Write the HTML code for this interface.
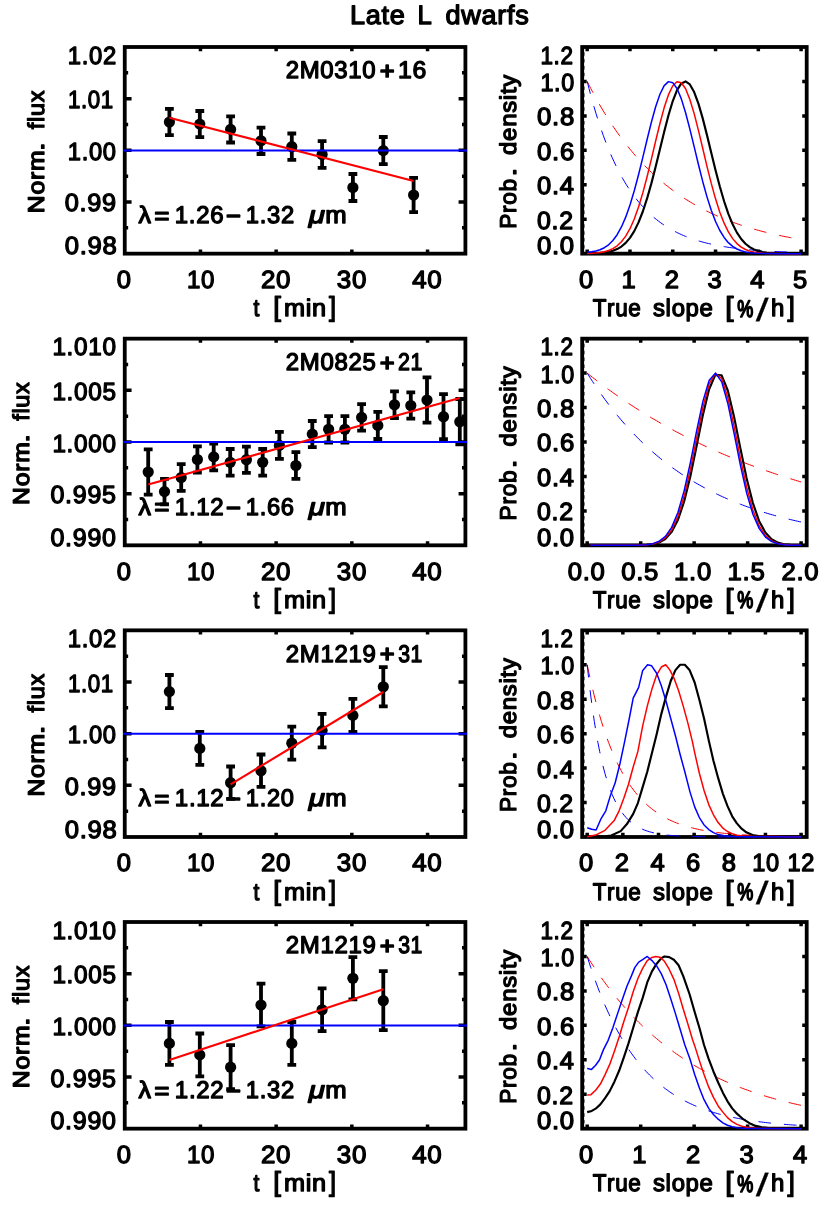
<!DOCTYPE html>
<html lang="en"><head><meta charset="utf-8"><title>Late L dwarfs</title>
<style>
html,body{margin:0;padding:0;background:#fff}
svg{display:block;will-change:transform}
.t text{font-family:"Liberation Sans",sans-serif;font-weight:400;font-size:24px;fill:#000;stroke:#000;stroke-width:1.3px;stroke-linejoin:round;letter-spacing:0.7px;font-kerning:none;white-space:pre;text-rendering:geometricPrecision}
</style></head><body>
<svg width="830" height="1214" viewBox="0 0 830 1214">
<rect width="830" height="1214" fill="#fff"/>
<g class="t">
<text y="24.05"><tspan x="350.04" textLength="55.41" lengthAdjust="spacingAndGlyphs" style="font-size:26.6px">Late</tspan> <tspan x="417.62" textLength="14.98" lengthAdjust="spacingAndGlyphs" style="font-size:26.6px">L</tspan> <tspan x="445.53" textLength="83.9" lengthAdjust="spacingAndGlyphs" style="font-size:26.6px">dwarfs</tspan></text>
</g>
<g class="pl">
<rect x="124.75" y="47" width="340.65" height="206.65" fill="none" stroke="#000" stroke-width="3.8"/>
<path d="M200.45 253.65v-4.13M200.45 47v4.13M276.15 253.65v-4.13M276.15 47v4.13M351.85 253.65v-4.13M351.85 47v4.13M427.55 253.65v-4.13M427.55 47v4.13M124.75 98.66h6.81M465.4 98.66h-6.81M124.75 150.32h6.81M465.4 150.32h-6.81M124.75 201.99h6.81M465.4 201.99h-6.81M124.75 72.83h3.41M465.4 72.83h-3.41M124.75 124.49h3.41M465.4 124.49h-3.41M124.75 176.16h3.41M465.4 176.16h-3.41M124.75 227.82h3.41M465.4 227.82h-3.41" fill="none" stroke="#000" stroke-width="3.5"/>
<path d="M169.4 108.9V135.1M165 108.9h8.8M165 135.1h8.8M199.8 111V137.2M195.4 111h8.8M195.4 137.2h8.8M230.6 116.3V142.5M226.2 116.3h8.8M226.2 142.5h8.8M261 127.6V154M256.6 127.6h8.8M256.6 154h8.8M291.8 133.5V159.9M287.4 133.5h8.8M287.4 159.9h8.8M322.1 141.2V167.8M317.7 141.2h8.8M317.7 167.8h8.8M352.9 174V201M348.5 174h8.8M348.5 201h8.8M383.3 137V164.2M378.9 137h8.8M378.9 164.2h8.8M413.6 177.8V212.2M409.2 177.8h8.8M409.2 212.2h8.8" fill="none" stroke="#000" stroke-width="3.8"/>
<circle cx="169.4" cy="122" r="5.6"/><circle cx="199.8" cy="124.1" r="5.6"/><circle cx="230.6" cy="129.4" r="5.6"/><circle cx="261" cy="140.8" r="5.6"/><circle cx="291.8" cy="146.7" r="5.6"/><circle cx="322.1" cy="154.5" r="5.6"/><circle cx="352.9" cy="187.5" r="5.6"/><circle cx="383.3" cy="150.6" r="5.6"/><circle cx="413.6" cy="195" r="5.6"/>
<path d="M123.05 150.42H467.1" stroke="#0000ff" stroke-width="2" fill="none"/>
<path d="M169.4 117.7L413.6 181" stroke="#ff0000" stroke-width="2.1" fill="none"/>
</g>
<g class="t">
<text transform="translate(67.81 63.75) scale(0.9602 1)" style="font-size:24.8px">1.02</text>
<text transform="translate(67.89 108.16) scale(0.8977 1)" style="font-size:24.8px">1.01</text>
<text transform="translate(67.82 159.82) scale(0.9547 1)" style="font-size:24.8px">1.00</text>
<text transform="translate(64.67 211.49) scale(1.0217 1)" style="font-size:24.8px">0.99</text>
<text transform="translate(64.67 254.3) scale(1.0338 1)" style="font-size:24.8px">0.98</text>
<text transform="translate(116.85 288.05) scale(1.0300 1)" style="font-size:24.8px">0</text>
<text transform="translate(187.04 288.05) scale(0.9700 1)" style="font-size:24.8px">10</text>
<text transform="translate(260.93 288.05) scale(1.0450 1)" style="font-size:24.8px">20</text>
<text transform="translate(336.78 288.05) scale(1.0450 1)" style="font-size:24.8px">30</text>
<text transform="translate(412.18 288.05) scale(1.0450 1)" style="font-size:24.8px">40</text>
<text y="316.35"><tspan x="253.45" textLength="6.45" lengthAdjust="spacingAndGlyphs">t</tspan> <tspan x="273.28" textLength="8.38" lengthAdjust="spacingAndGlyphs" style="font-size:27.5px">[</tspan><tspan x="283.9" textLength="42.99" lengthAdjust="spacingAndGlyphs">min</tspan><tspan x="328.9" textLength="7.64" lengthAdjust="spacingAndGlyphs" style="font-size:27.5px">]</tspan></text>
<text transform="translate(43.75 0) rotate(-90)" y="0"><tspan x="-213.23" textLength="63.51" lengthAdjust="spacingAndGlyphs" style="font-size:22.9px">Norm</tspan><tspan x="-150.99" textLength="9.53" lengthAdjust="spacingAndGlyphs" style="font-size:22.9px">.</tspan> <tspan x="-129.17" textLength="39.37" lengthAdjust="spacingAndGlyphs" style="font-size:22.9px">flux</tspan></text>
<text y="78.25"><tspan x="285.74" textLength="90.64" lengthAdjust="spacingAndGlyphs">2M0310</tspan><tspan x="380.07" y="79.05" textLength="15.08" lengthAdjust="spacingAndGlyphs" style="stroke-width:1.9px">+</tspan><tspan x="398.08" y="78.25" textLength="29.06" lengthAdjust="spacingAndGlyphs">16</tspan></text>
<text y="223.1"><tspan x="138.5" textLength="13.17" lengthAdjust="spacingAndGlyphs">λ</tspan><tspan x="154.56" y="223.7" textLength="15.53" lengthAdjust="spacingAndGlyphs" style="stroke-width:1.7px">=</tspan><tspan x="174.82" y="223.1" textLength="49.48" lengthAdjust="spacingAndGlyphs">1.26</tspan><tspan x="226.36" y="223.9" textLength="15.08" lengthAdjust="spacingAndGlyphs" style="stroke-width:1.9px">−</tspan><tspan x="245.83" y="223.1" textLength="49.01" lengthAdjust="spacingAndGlyphs">1.32</tspan> <tspan x="308.72" textLength="17.02" lengthAdjust="spacingAndGlyphs" style="font-style:italic">μ</tspan><tspan x="325.29" textLength="22.16" lengthAdjust="spacingAndGlyphs">m</tspan></text>
</g>
<g class="pl">
<rect x="124.75" y="338.67" width="340.65" height="206.65" fill="none" stroke="#000" stroke-width="3.8"/>
<path d="M200.45 545.32v-4.13M200.45 338.67v4.13M276.15 545.32v-4.13M276.15 338.67v4.13M351.85 545.32v-4.13M351.85 338.67v4.13M427.55 545.32v-4.13M427.55 338.67v4.13M124.75 390.33h6.81M465.4 390.33h-6.81M124.75 442h6.81M465.4 442h-6.81M124.75 493.66h6.81M465.4 493.66h-6.81M124.75 364.5h3.41M465.4 364.5h-3.41M124.75 416.16h3.41M465.4 416.16h-3.41M124.75 467.83h3.41M465.4 467.83h-3.41M124.75 519.49h3.41M465.4 519.49h-3.41" fill="none" stroke="#000" stroke-width="3.5"/>
<path d="M148.2 449.4V494.6M143.8 449.4h8.8M143.8 494.6h8.8M164.5 478.9V504.3M160.1 478.9h8.8M160.1 504.3h8.8M181.2 464.2V490.8M176.8 464.2h8.8M176.8 490.8h8.8M197.4 446.3V472.7M193 446.3h8.8M193 472.7h8.8M213.7 443.5V470.3M209.3 443.5h8.8M209.3 470.3h8.8M230.2 449V475.6M225.8 449h8.8M225.8 475.6h8.8M246.4 446.6V472.8M242 446.6h8.8M242 472.8h8.8M262.7 449V475.6M258.3 449h8.8M258.3 475.6h8.8M279.4 431.9V458.9M275 431.9h8.8M275 458.9h8.8M295.9 452.2V478.8M291.5 452.2h8.8M291.5 478.8h8.8M312.3 421V447.2M307.9 421h8.8M307.9 447.2h8.8M328.6 416.1V442.5M324.2 416.1h8.8M324.2 442.5h8.8M344.9 416.1V442.5M340.5 416.1h8.8M340.5 442.5h8.8M361.6 404.2V430.6M357.2 404.2h8.8M357.2 430.6h8.8M377.8 411.8V439M373.4 411.8h8.8M373.4 439h8.8M394.5 391.4V418.2M390.1 391.4h8.8M390.1 418.2h8.8M410.8 392.3V418.7M406.4 392.3h8.8M406.4 418.7h8.8M427 377.3V422.7M422.6 377.3h8.8M422.6 422.7h8.8M443.5 394.2V439.2M439.1 394.2h8.8M439.1 439.2h8.8M459.8 399V444.4M455.4 399h8.8M455.4 444.4h8.8" fill="none" stroke="#000" stroke-width="3.8"/>
<circle cx="148.2" cy="472" r="5.6"/><circle cx="164.5" cy="491.6" r="5.6"/><circle cx="181.2" cy="477.5" r="5.6"/><circle cx="197.4" cy="459.5" r="5.6"/><circle cx="213.7" cy="456.9" r="5.6"/><circle cx="230.2" cy="462.3" r="5.6"/><circle cx="246.4" cy="459.7" r="5.6"/><circle cx="262.7" cy="462.3" r="5.6"/><circle cx="279.4" cy="445.4" r="5.6"/><circle cx="295.9" cy="465.5" r="5.6"/><circle cx="312.3" cy="434.1" r="5.6"/><circle cx="328.6" cy="429.3" r="5.6"/><circle cx="344.9" cy="429.3" r="5.6"/><circle cx="361.6" cy="417.4" r="5.6"/><circle cx="377.8" cy="425.4" r="5.6"/><circle cx="394.5" cy="404.8" r="5.6"/><circle cx="410.8" cy="405.5" r="5.6"/><circle cx="427" cy="400" r="5.6"/><circle cx="443.5" cy="416.7" r="5.6"/><circle cx="459.8" cy="421.7" r="5.6"/>
<path d="M123.05 442.1H467.1" stroke="#0000ff" stroke-width="2" fill="none"/>
<path d="M148.2 484.6L459.8 397.9" stroke="#ff0000" stroke-width="2.1" fill="none"/>
</g>
<g class="t">
<text transform="translate(52.39 355.42) scale(0.9794 1)" style="font-size:24.8px">1.010</text>
<text transform="translate(52.39 399.83) scale(0.9805 1)" style="font-size:24.8px">1.005</text>
<text transform="translate(52.39 451.5) scale(0.9794 1)" style="font-size:24.8px">1.000</text>
<text transform="translate(50.48 503.16) scale(1.0101 1)" style="font-size:24.8px">0.995</text>
<text transform="translate(50.48 545.97) scale(1.0090 1)" style="font-size:24.8px">0.990</text>
<text transform="translate(116.85 579.72) scale(1.0300 1)" style="font-size:24.8px">0</text>
<text transform="translate(187.04 579.72) scale(0.9700 1)" style="font-size:24.8px">10</text>
<text transform="translate(260.93 579.72) scale(1.0450 1)" style="font-size:24.8px">20</text>
<text transform="translate(336.78 579.72) scale(1.0450 1)" style="font-size:24.8px">30</text>
<text transform="translate(412.18 579.72) scale(1.0450 1)" style="font-size:24.8px">40</text>
<text y="608.02"><tspan x="253.45" textLength="6.45" lengthAdjust="spacingAndGlyphs">t</tspan> <tspan x="273.28" textLength="8.38" lengthAdjust="spacingAndGlyphs" style="font-size:27.5px">[</tspan><tspan x="283.9" textLength="42.99" lengthAdjust="spacingAndGlyphs">min</tspan><tspan x="328.9" textLength="7.64" lengthAdjust="spacingAndGlyphs" style="font-size:27.5px">]</tspan></text>
<text transform="translate(28.95 0) rotate(-90)" y="0"><tspan x="-504.9" textLength="63.51" lengthAdjust="spacingAndGlyphs" style="font-size:22.9px">Norm</tspan><tspan x="-442.66" textLength="9.53" lengthAdjust="spacingAndGlyphs" style="font-size:22.9px">.</tspan> <tspan x="-420.84" textLength="39.37" lengthAdjust="spacingAndGlyphs" style="font-size:22.9px">flux</tspan></text>
<text y="369.92"><tspan x="285.74" textLength="90.71" lengthAdjust="spacingAndGlyphs">2M0825</tspan><tspan x="380.07" y="370.72" textLength="15.08" lengthAdjust="spacingAndGlyphs" style="stroke-width:1.9px">+</tspan><tspan x="397.9" y="369.92" textLength="25.09" lengthAdjust="spacingAndGlyphs">21</tspan></text>
<text y="514.77"><tspan x="138.5" textLength="13.17" lengthAdjust="spacingAndGlyphs">λ</tspan><tspan x="154.56" y="515.37" textLength="15.53" lengthAdjust="spacingAndGlyphs" style="stroke-width:1.7px">=</tspan><tspan x="174.82" y="514.77" textLength="49.64" lengthAdjust="spacingAndGlyphs">1.12</tspan><tspan x="226.36" y="515.57" textLength="15.08" lengthAdjust="spacingAndGlyphs" style="stroke-width:1.9px">−</tspan><tspan x="245.84" y="514.77" textLength="48.85" lengthAdjust="spacingAndGlyphs">1.66</tspan> <tspan x="308.72" textLength="17.02" lengthAdjust="spacingAndGlyphs" style="font-style:italic">μ</tspan><tspan x="325.29" textLength="22.16" lengthAdjust="spacingAndGlyphs">m</tspan></text>
</g>
<g class="pl">
<rect x="124.75" y="630.34" width="340.65" height="206.65" fill="none" stroke="#000" stroke-width="3.8"/>
<path d="M200.45 836.99v-4.13M200.45 630.34v4.13M276.15 836.99v-4.13M276.15 630.34v4.13M351.85 836.99v-4.13M351.85 630.34v4.13M427.55 836.99v-4.13M427.55 630.34v4.13M124.75 682h6.81M465.4 682h-6.81M124.75 733.66h6.81M465.4 733.66h-6.81M124.75 785.33h6.81M465.4 785.33h-6.81M124.75 656.17h3.41M465.4 656.17h-3.41M124.75 707.83h3.41M465.4 707.83h-3.41M124.75 759.5h3.41M465.4 759.5h-3.41M124.75 811.16h3.41M465.4 811.16h-3.41" fill="none" stroke="#000" stroke-width="3.5"/>
<path d="M169.4 675V708.2M165 675h8.8M165 708.2h8.8M199.8 731.9V764.9M195.4 731.9h8.8M195.4 764.9h8.8M230.6 766.5V798.9M226.2 766.5h8.8M226.2 798.9h8.8M261 754.5V786.9M256.6 754.5h8.8M256.6 786.9h8.8M291.8 726.7V759.7M287.4 726.7h8.8M287.4 759.7h8.8M322.1 713.8V747.4M317.7 713.8h8.8M317.7 747.4h8.8M352.9 698.9V731.9M348.5 698.9h8.8M348.5 731.9h8.8M383.3 667.2V706.4M378.9 667.2h8.8M378.9 706.4h8.8" fill="none" stroke="#000" stroke-width="3.8"/>
<circle cx="169.4" cy="691.6" r="5.6"/><circle cx="199.8" cy="748.4" r="5.6"/><circle cx="230.6" cy="782.7" r="5.6"/><circle cx="261" cy="770.7" r="5.6"/><circle cx="291.8" cy="743.2" r="5.6"/><circle cx="322.1" cy="730.6" r="5.6"/><circle cx="352.9" cy="715.4" r="5.6"/><circle cx="383.3" cy="686.8" r="5.6"/>
<path d="M123.05 733.76H467.1" stroke="#0000ff" stroke-width="2" fill="none"/>
<path d="M230.6 784.4L383.3 692" stroke="#ff0000" stroke-width="2.1" fill="none"/>
</g>
<g class="t">
<text transform="translate(67.81 647.09) scale(0.9602 1)" style="font-size:24.8px">1.02</text>
<text transform="translate(67.89 691.5) scale(0.8977 1)" style="font-size:24.8px">1.01</text>
<text transform="translate(67.82 743.16) scale(0.9547 1)" style="font-size:24.8px">1.00</text>
<text transform="translate(64.67 794.83) scale(1.0217 1)" style="font-size:24.8px">0.99</text>
<text transform="translate(64.67 837.64) scale(1.0338 1)" style="font-size:24.8px">0.98</text>
<text transform="translate(116.85 871.39) scale(1.0300 1)" style="font-size:24.8px">0</text>
<text transform="translate(187.04 871.39) scale(0.9700 1)" style="font-size:24.8px">10</text>
<text transform="translate(260.93 871.39) scale(1.0450 1)" style="font-size:24.8px">20</text>
<text transform="translate(336.78 871.39) scale(1.0450 1)" style="font-size:24.8px">30</text>
<text transform="translate(412.18 871.39) scale(1.0450 1)" style="font-size:24.8px">40</text>
<text y="899.69"><tspan x="253.45" textLength="6.45" lengthAdjust="spacingAndGlyphs">t</tspan> <tspan x="273.28" textLength="8.38" lengthAdjust="spacingAndGlyphs" style="font-size:27.5px">[</tspan><tspan x="283.9" textLength="42.99" lengthAdjust="spacingAndGlyphs">min</tspan><tspan x="328.9" textLength="7.64" lengthAdjust="spacingAndGlyphs" style="font-size:27.5px">]</tspan></text>
<text transform="translate(43.75 0) rotate(-90)" y="0"><tspan x="-796.57" textLength="63.51" lengthAdjust="spacingAndGlyphs" style="font-size:22.9px">Norm</tspan><tspan x="-734.33" textLength="9.53" lengthAdjust="spacingAndGlyphs" style="font-size:22.9px">.</tspan> <tspan x="-712.51" textLength="39.37" lengthAdjust="spacingAndGlyphs" style="font-size:22.9px">flux</tspan></text>
<text y="661.59"><tspan x="285.74" textLength="90.84" lengthAdjust="spacingAndGlyphs">2M1219</tspan><tspan x="380.07" y="662.39" textLength="15.08" lengthAdjust="spacingAndGlyphs" style="stroke-width:1.9px">+</tspan><tspan x="398.17" y="661.59" textLength="24.81" lengthAdjust="spacingAndGlyphs">31</tspan></text>
<text y="806.44"><tspan x="138.5" textLength="13.17" lengthAdjust="spacingAndGlyphs">λ</tspan><tspan x="154.56" y="807.04" textLength="15.53" lengthAdjust="spacingAndGlyphs" style="stroke-width:1.7px">=</tspan><tspan x="174.82" y="806.44" textLength="49.64" lengthAdjust="spacingAndGlyphs">1.12</tspan><tspan x="226.36" y="807.24" textLength="15.08" lengthAdjust="spacingAndGlyphs" style="stroke-width:1.9px">−</tspan><tspan x="245.84" y="806.44" textLength="48.73" lengthAdjust="spacingAndGlyphs">1.20</tspan> <tspan x="308.72" textLength="17.02" lengthAdjust="spacingAndGlyphs" style="font-style:italic">μ</tspan><tspan x="325.29" textLength="22.16" lengthAdjust="spacingAndGlyphs">m</tspan></text>
</g>
<g class="pl">
<rect x="124.75" y="922.01" width="340.65" height="206.65" fill="none" stroke="#000" stroke-width="3.8"/>
<path d="M200.45 1128.66v-4.13M200.45 922.01v4.13M276.15 1128.66v-4.13M276.15 922.01v4.13M351.85 1128.66v-4.13M351.85 922.01v4.13M427.55 1128.66v-4.13M427.55 922.01v4.13M124.75 973.67h6.81M465.4 973.67h-6.81M124.75 1025.34h6.81M465.4 1025.34h-6.81M124.75 1077h6.81M465.4 1077h-6.81M124.75 947.84h3.41M465.4 947.84h-3.41M124.75 999.5h3.41M465.4 999.5h-3.41M124.75 1051.17h3.41M465.4 1051.17h-3.41M124.75 1102.83h3.41M465.4 1102.83h-3.41" fill="none" stroke="#000" stroke-width="3.5"/>
<path d="M169.4 1022V1064.8M165 1022h8.8M165 1064.8h8.8M199.8 1033.5V1076.3M195.4 1033.5h8.8M195.4 1076.3h8.8M230.6 1045.2V1089.2M226.2 1045.2h8.8M226.2 1089.2h8.8M261 983.6V1026.4M256.6 983.6h8.8M256.6 1026.4h8.8M291.8 1022V1064.8M287.4 1022h8.8M287.4 1064.8h8.8M322.1 988.4V1031.2M317.7 988.4h8.8M317.7 1031.2h8.8M352.9 957.2V999.4M348.5 957.2h8.8M348.5 999.4h8.8M383.3 971.2V1030.2M378.9 971.2h8.8M378.9 1030.2h8.8" fill="none" stroke="#000" stroke-width="3.8"/>
<circle cx="169.4" cy="1043.4" r="5.6"/><circle cx="199.8" cy="1054.9" r="5.6"/><circle cx="230.6" cy="1067.2" r="5.6"/><circle cx="261" cy="1005" r="5.6"/><circle cx="291.8" cy="1043.4" r="5.6"/><circle cx="322.1" cy="1009.8" r="5.6"/><circle cx="352.9" cy="978.3" r="5.6"/><circle cx="383.3" cy="1000.7" r="5.6"/>
<path d="M123.05 1025.43H467.1" stroke="#0000ff" stroke-width="2" fill="none"/>
<path d="M169.4 1060.1L383.3 989.2" stroke="#ff0000" stroke-width="2.1" fill="none"/>
</g>
<g class="t">
<text transform="translate(52.39 938.76) scale(0.9794 1)" style="font-size:24.8px">1.010</text>
<text transform="translate(52.39 983.17) scale(0.9805 1)" style="font-size:24.8px">1.005</text>
<text transform="translate(52.39 1034.84) scale(0.9794 1)" style="font-size:24.8px">1.000</text>
<text transform="translate(50.48 1086.5) scale(1.0101 1)" style="font-size:24.8px">0.995</text>
<text transform="translate(50.48 1129.31) scale(1.0090 1)" style="font-size:24.8px">0.990</text>
<text transform="translate(116.85 1163.06) scale(1.0300 1)" style="font-size:24.8px">0</text>
<text transform="translate(187.04 1163.06) scale(0.9700 1)" style="font-size:24.8px">10</text>
<text transform="translate(260.93 1163.06) scale(1.0450 1)" style="font-size:24.8px">20</text>
<text transform="translate(336.78 1163.06) scale(1.0450 1)" style="font-size:24.8px">30</text>
<text transform="translate(412.18 1163.06) scale(1.0450 1)" style="font-size:24.8px">40</text>
<text y="1191.36"><tspan x="253.45" textLength="6.45" lengthAdjust="spacingAndGlyphs">t</tspan> <tspan x="273.28" textLength="8.38" lengthAdjust="spacingAndGlyphs" style="font-size:27.5px">[</tspan><tspan x="283.9" textLength="42.99" lengthAdjust="spacingAndGlyphs">min</tspan><tspan x="328.9" textLength="7.64" lengthAdjust="spacingAndGlyphs" style="font-size:27.5px">]</tspan></text>
<text transform="translate(28.95 0) rotate(-90)" y="0"><tspan x="-1088.24" textLength="63.51" lengthAdjust="spacingAndGlyphs" style="font-size:22.9px">Norm</tspan><tspan x="-1026" textLength="9.53" lengthAdjust="spacingAndGlyphs" style="font-size:22.9px">.</tspan> <tspan x="-1004.18" textLength="39.37" lengthAdjust="spacingAndGlyphs" style="font-size:22.9px">flux</tspan></text>
<text y="953.26"><tspan x="285.74" textLength="90.84" lengthAdjust="spacingAndGlyphs">2M1219</tspan><tspan x="380.07" y="954.06" textLength="15.08" lengthAdjust="spacingAndGlyphs" style="stroke-width:1.9px">+</tspan><tspan x="398.17" y="953.26" textLength="24.81" lengthAdjust="spacingAndGlyphs">31</tspan></text>
<text y="1098.11"><tspan x="138.5" textLength="13.17" lengthAdjust="spacingAndGlyphs">λ</tspan><tspan x="154.56" y="1098.71" textLength="15.53" lengthAdjust="spacingAndGlyphs" style="stroke-width:1.7px">=</tspan><tspan x="174.82" y="1098.11" textLength="49.64" lengthAdjust="spacingAndGlyphs">1.22</tspan><tspan x="226.36" y="1098.91" textLength="15.08" lengthAdjust="spacingAndGlyphs" style="stroke-width:1.9px">−</tspan><tspan x="245.83" y="1098.11" textLength="49.01" lengthAdjust="spacingAndGlyphs">1.32</tspan> <tspan x="308.72" textLength="17.02" lengthAdjust="spacingAndGlyphs" style="font-style:italic">μ</tspan><tspan x="325.29" textLength="22.16" lengthAdjust="spacingAndGlyphs">m</tspan></text>
</g>
<g class="pl">
<rect x="582.2" y="47" width="224.5" height="206.65" fill="none" stroke="#000" stroke-width="3.8"/>
<path d="M587.2 253.65v-4.13M587.2 47v4.13M629.98 253.65v-4.13M629.98 47v4.13M672.76 253.65v-4.13M672.76 47v4.13M715.54 253.65v-4.13M715.54 47v4.13M758.32 253.65v-4.13M758.32 47v4.13M801.1 253.65v-4.13M801.1 47v4.13M582.2 219.21h4.49M806.7 219.21h-4.49M582.2 184.77h4.49M806.7 184.77h-4.49M582.2 150.32h4.49M806.7 150.32h-4.49M582.2 115.88h4.49M806.7 115.88h-4.49M582.2 81.44h4.49M806.7 81.44h-4.49M582.2 246.76h2.25M582.2 239.87h2.25M582.2 232.98h2.25M582.2 226.1h2.25M582.2 212.32h2.25M582.2 205.43h2.25M582.2 198.54h2.25M582.2 191.65h2.25M582.2 177.88h2.25M582.2 170.99h2.25M582.2 164.1h2.25M582.2 157.21h2.25M582.2 143.44h2.25M582.2 136.55h2.25M582.2 129.66h2.25M582.2 122.77h2.25M582.2 108.99h2.25M582.2 102.11h2.25M582.2 95.22h2.25M582.2 88.33h2.25M582.2 74.55h2.25M582.2 67.66h2.25M582.2 60.77h2.25M582.2 53.89h2.25" fill="none" stroke="#000" stroke-width="3.5"/>
<path d="M587.2 81.44L588.98 84.99L590.77 88.47L592.55 91.87L594.33 95.21L596.11 98.48L597.9 101.68L599.68 104.81L601.46 107.88L603.24 110.88L605.03 113.83L606.81 116.71L608.59 119.53L610.37 122.3L612.16 125.01L613.94 127.66L615.72 130.26L617.5 132.8L619.29 135.29L621.07 137.73L622.85 140.12L624.63 142.46L626.42 144.76L628.2 147L629.98 149.2L631.76 151.35L633.55 153.46L635.33 155.53L637.11 157.55L638.89 159.53L640.68 161.47L642.46 163.37L644.24 165.23L646.02 167.06L647.81 168.84L649.59 170.59L651.37 172.3L653.15 173.98L654.94 175.62L656.72 177.23L658.5 178.81L660.28 180.35L662.07 181.86L663.85 183.34L665.63 184.79L667.41 186.21L669.2 187.6L670.98 188.96L672.76 190.3L674.54 191.6L676.33 192.88L678.11 194.14L679.89 195.36L681.67 196.56L683.46 197.74L685.24 198.89L687.02 200.02L688.8 201.13L690.59 202.21L692.37 203.27L694.15 204.31L695.93 205.33L697.72 206.32L699.5 207.3L701.28 208.26L703.06 209.19L704.85 210.11L706.63 211.01L708.41 211.89L710.19 212.75L711.98 213.59L713.76 214.42L715.54 215.22L717.32 216.02L719.11 216.79L720.89 217.55L722.67 218.3L724.45 219.03L726.24 219.74L728.02 220.44L729.8 221.12L731.58 221.79L733.37 222.45L735.15 223.09L736.93 223.72L738.71 224.34L740.5 224.95L742.28 225.54L744.06 226.12L745.84 226.68L747.62 227.24L749.41 227.79L751.19 228.32L752.97 228.84L754.75 229.35L756.54 229.85L758.32 230.34L760.1 230.82L761.88 231.3L763.67 231.76L765.45 232.21L767.23 232.65L769.01 233.08L770.8 233.51L772.58 233.92L774.36 234.33L776.14 234.73L777.93 235.12L779.71 235.5L781.49 235.87L783.27 236.24L785.06 236.6L786.84 236.95L788.62 237.29L790.4 237.63L792.19 237.96L793.97 238.29L795.75 238.6L797.54 238.91L799.32 239.22L801.1 239.51" stroke="#ff0000" stroke-width="1.0" stroke-dasharray="12.7 12.9" fill="none"/>
<path d="M587.2 81.44L588.98 88.47L590.77 95.21L592.55 101.68L594.33 107.88L596.11 113.83L597.9 119.53L599.68 125.01L601.46 130.26L603.24 135.29L605.03 140.12L606.81 144.76L608.59 149.2L610.37 153.46L612.16 157.55L613.94 161.47L615.72 165.23L617.5 168.84L619.29 172.3L621.07 175.62L622.85 178.81L624.63 181.86L626.42 184.79L628.2 187.6L629.98 190.3L631.76 192.88L633.55 195.36L635.33 197.74L637.11 200.02L638.89 202.21L640.68 204.31L642.46 206.32L644.24 208.26L646.02 210.11L647.81 211.89L649.59 213.59L651.37 215.22L653.15 216.79L654.94 218.3L656.72 219.74L658.5 221.12L660.28 222.45L662.07 223.72L663.85 224.95L665.63 226.12L667.41 227.24L669.2 228.32L670.98 229.35L672.76 230.34L674.54 231.3L676.33 232.21L678.11 233.08L679.89 233.92L681.67 234.73L683.46 235.5L685.24 236.24L687.02 236.95L688.8 237.63L690.59 238.29L692.37 238.91L694.15 239.51L695.93 240.09L697.72 240.64L699.5 241.18L701.28 241.68L703.06 242.17L704.85 242.64L706.63 243.09L708.41 243.52L710.19 243.93L711.98 244.33L713.76 244.71L715.54 245.08L717.32 245.43L719.11 245.76L720.89 246.08L722.67 246.39L724.45 246.69L726.24 246.97L728.02 247.25L729.8 247.51L731.58 247.76L733.37 248L735.15 248.23L736.93 248.45L738.71 248.66L740.5 248.87L742.28 249.06L744.06 249.25L745.84 249.43L747.62 249.6L749.41 249.77L751.19 249.92L752.97 250.08L754.75 250.22L756.54 250.36L758.32 250.5L760.1 250.62L761.88 250.75L763.67 250.87L765.45 250.98L767.23 251.09L769.01 251.19L770.8 251.29L772.58 251.39L774.36 251.48L776.14 251.57L777.93 251.66L779.71 251.74L781.49 251.81L783.27 251.89L785.06 251.96L786.84 252.03L788.62 252.1L790.4 252.16L792.19 252.22L793.97 252.28L795.75 252.34L797.54 252.39L799.32 252.44L801.1 252.49" stroke="#0000ff" stroke-width="1.0" stroke-dasharray="12.7 12.9" fill="none"/>
<path d="M587.2 253.56L591.48 253.47L595.76 253.33L600.03 253.07L604.31 252.63L608.59 251.92L612.87 250.8L617.15 249.09L621.42 246.55L625.7 242.92L629.98 237.87L634.26 231.12L638.54 222.4L642.81 211.51L647.09 198.45L651.37 183.38L655.65 166.74L659.93 149.2L664.2 131.67L668.48 115.24L672.76 101.04L677.04 90.14L681.32 83.43L685.59 81.46L689.87 84.41L694.15 92.01L698.43 103.64L702.71 118.38L706.98 135.13L711.26 152.74L715.54 170.17L719.82 186.54L724.1 201.23L728.37 213.87L732.65 224.31L736.93 232.62L741.21 239.01L745.49 243.74L749.76 247.14L754.04 249.49L758.32 251.07L762.6 252.09L766.88 252.74L771.15 253.13L775.43 253.36L779.71 253.5L783.99 253.57L788.27 253.61L792.54 253.63L796.82 253.64L801.1 253.65" stroke="#000" stroke-width="2.15" stroke-linejoin="round" fill="none"/>
<path d="M587.2 253.47L591.48 253.31L595.76 253.03L600.03 252.56L604.31 251.79L608.59 250.55L612.87 248.65L617.15 245.83L621.42 241.78L625.7 236.17L629.98 228.68L634.26 219.03L638.54 207.09L642.81 192.89L647.09 176.73L651.37 159.16L655.65 141.04L659.93 123.45L664.2 107.59L668.48 94.68L672.76 85.79L677.04 81.67L681.32 82.71L685.59 88.8L689.87 99.42L694.15 113.64L698.43 130.35L702.71 148.29L706.98 166.31L711.26 183.4L715.54 198.83L719.82 212.15L724.1 223.16L728.37 231.92L732.65 238.63L736.93 243.57L741.21 247.09L745.49 249.51L749.76 251.11L754.04 252.14L758.32 252.78L762.6 253.16L766.88 253.39L771.15 253.51L775.43 253.58L779.71 253.61L783.99 253.63L788.27 253.64L792.54 253.65L796.82 253.65L801.1 253.65" stroke="#ff0000" stroke-width="1.5" stroke-linejoin="round" fill="none"/>
<path d="M587.2 252.23L591.48 251.8L595.76 251.02L600.03 249.73L604.31 247.73L608.59 244.76L612.87 240.52L617.15 234.69L621.42 226.98L625.7 217.14L629.98 205.06L634.26 190.81L638.54 174.71L642.81 157.33L647.09 139.5L651.37 122.27L655.65 106.8L659.93 94.25L664.2 85.62L668.48 81.64L672.76 82.65L677.04 88.56L681.32 98.88L685.59 112.74L689.87 129.07L694.15 146.69L698.43 164.46L702.71 181.44L706.98 196.87L711.26 210.29L715.54 221.5L719.82 230.5L724.1 237.46L728.37 242.66L732.65 246.4L736.93 249.01L741.21 250.76L745.49 251.91L749.76 252.63L754.04 253.07L758.32 253.33L762.6 253.48L766.88 253.56L771.15 253.6L775.43 253.63L779.71 253.64L783.99 253.64L788.27 253.65L792.54 253.65L796.82 253.65L801.1 253.65" stroke="#0000ff" stroke-width="1.5" stroke-linejoin="round" fill="none"/>
</g>
<g class="t">
<text transform="translate(540.48 63.75) scale(0.9048 1)" style="font-size:24.8px">1.2</text>
<text transform="translate(540.44 90.94) scale(0.9383 1)" style="font-size:24.8px">1.0</text>
<text transform="translate(536.97 125.38) scale(1.0390 1)" style="font-size:24.8px">0.8</text>
<text transform="translate(536.97 159.82) scale(1.0394 1)" style="font-size:24.8px">0.6</text>
<text transform="translate(536.97 194.27) scale(1.0287 1)" style="font-size:24.8px">0.4</text>
<text transform="translate(536.98 228.71) scale(1.0040 1)" style="font-size:24.8px">0.2</text>
<text transform="translate(536.97 254.3) scale(1.0358 1)" style="font-size:24.8px">0.0</text>
<text transform="translate(579.1 288.05) scale(1.0300 1)" style="font-size:24.8px">0</text>
<text transform="translate(621.53 288.05) scale(1.0300 1)" style="font-size:24.8px">1</text>
<text transform="translate(664.66 288.05) scale(1.0300 1)" style="font-size:24.8px">2</text>
<text transform="translate(707.51 288.05) scale(1.0300 1)" style="font-size:24.8px">3</text>
<text transform="translate(750.3 288.05) scale(1.0300 1)" style="font-size:24.8px">4</text>
<text transform="translate(793.02 288.05) scale(1.0300 1)" style="font-size:24.8px">5</text>
<text y="316.35"><tspan x="592.7" textLength="48.84" lengthAdjust="spacingAndGlyphs">True</tspan> <tspan x="652.98" textLength="60.63" lengthAdjust="spacingAndGlyphs">slope</tspan> <tspan x="725.29" textLength="9" lengthAdjust="spacingAndGlyphs" style="font-size:27.5px">[</tspan><tspan x="737.2" y="316.75" textLength="16.53" lengthAdjust="spacingAndGlyphs" style="stroke-width:1.7px">%</tspan><tspan x="755.75" y="320.55" textLength="13.91" lengthAdjust="spacingAndGlyphs" style="font-size:32px;stroke-width:0.2px">/</tspan><tspan x="771.09" y="316.35" textLength="14.02" lengthAdjust="spacingAndGlyphs">h</tspan><tspan x="787.52" textLength="8.01" lengthAdjust="spacingAndGlyphs" style="font-size:27.5px">]</tspan></text>
<text transform="translate(516.25 0) rotate(-90)" y="0"><tspan x="-228.72" textLength="50.62" lengthAdjust="spacingAndGlyphs" style="font-size:22.9px">Prob</tspan><tspan x="-176.59" textLength="9.53" lengthAdjust="spacingAndGlyphs" style="font-size:22.9px">.</tspan> <tspan x="-154.93" textLength="80.92" lengthAdjust="spacingAndGlyphs" style="font-size:22.9px">density</tspan></text>
</g>
<g class="pl">
<rect x="582.2" y="338.67" width="224.5" height="206.65" fill="none" stroke="#000" stroke-width="3.8"/>
<path d="M587.2 545.32v-4.13M587.2 338.67v4.13M640.68 545.32v-4.13M640.68 338.67v4.13M694.15 545.32v-4.13M694.15 338.67v4.13M747.62 545.32v-4.13M747.62 338.67v4.13M801.1 545.32v-4.13M801.1 338.67v4.13M582.2 510.88h4.49M806.7 510.88h-4.49M582.2 476.44h4.49M806.7 476.44h-4.49M582.2 441.99h4.49M806.7 441.99h-4.49M582.2 407.55h4.49M806.7 407.55h-4.49M582.2 373.11h4.49M806.7 373.11h-4.49M582.2 538.43h2.25M582.2 531.54h2.25M582.2 524.65h2.25M582.2 517.77h2.25M582.2 503.99h2.25M582.2 497.1h2.25M582.2 490.21h2.25M582.2 483.32h2.25M582.2 469.55h2.25M582.2 462.66h2.25M582.2 455.77h2.25M582.2 448.88h2.25M582.2 435.11h2.25M582.2 428.22h2.25M582.2 421.33h2.25M582.2 414.44h2.25M582.2 400.66h2.25M582.2 393.78h2.25M582.2 386.89h2.25M582.2 380h2.25M582.2 366.22h2.25M582.2 359.33h2.25M582.2 352.44h2.25M582.2 345.56h2.25" fill="none" stroke="#000" stroke-width="3.5"/>
<path d="M587.2 373.11L588.98 374.54L590.77 375.96L592.55 377.36L594.33 378.76L596.11 380.14L597.9 381.51L599.68 382.87L601.46 384.22L603.24 385.55L605.03 386.88L606.81 388.19L608.59 389.5L610.37 390.79L612.16 392.07L613.94 393.35L615.72 394.61L617.5 395.86L619.29 397.1L621.07 398.33L622.85 399.55L624.63 400.76L626.42 401.96L628.2 403.15L629.98 404.33L631.76 405.5L633.55 406.66L635.33 407.81L637.11 408.95L638.89 410.08L640.68 411.2L642.46 412.32L644.24 413.42L646.02 414.51L647.81 415.6L649.59 416.68L651.37 417.74L653.15 418.8L654.94 419.85L656.72 420.89L658.5 421.93L660.28 422.95L662.07 423.97L663.85 424.97L665.63 425.97L667.41 426.96L669.2 427.94L670.98 428.92L672.76 429.88L674.54 430.84L676.33 431.79L678.11 432.73L679.89 433.67L681.67 434.6L683.46 435.51L685.24 436.43L687.02 437.33L688.8 438.23L690.59 439.11L692.37 440L694.15 440.87L695.93 441.74L697.72 442.6L699.5 443.45L701.28 444.29L703.06 445.13L704.85 445.96L706.63 446.79L708.41 447.61L710.19 448.42L711.98 449.22L713.76 450.02L715.54 450.81L717.32 451.59L719.11 452.37L720.89 453.14L722.67 453.91L724.45 454.67L726.24 455.42L728.02 456.16L729.8 456.9L731.58 457.64L733.37 458.37L735.15 459.09L736.93 459.8L738.71 460.51L740.5 461.22L742.28 461.91L744.06 462.61L745.84 463.29L747.62 463.97L749.41 464.65L751.19 465.32L752.97 465.98L754.75 466.64L756.54 467.29L758.32 467.94L760.1 468.58L761.88 469.22L763.67 469.85L765.45 470.48L767.23 471.1L769.01 471.71L770.8 472.33L772.58 472.93L774.36 473.53L776.14 474.13L777.93 474.72L779.71 475.3L781.49 475.89L783.27 476.46L785.06 477.03L786.84 477.6L788.62 478.16L790.4 478.72L792.19 479.27L793.97 479.82L795.75 480.36L797.54 480.9L799.32 481.44L801.1 481.97" stroke="#ff0000" stroke-width="1.0" stroke-dasharray="12.7 12.9" fill="none"/>
<path d="M587.2 373.11L588.98 375.96L590.77 378.76L592.55 381.51L594.33 384.22L596.11 386.88L597.9 389.5L599.68 392.07L601.46 394.61L603.24 397.1L605.03 399.55L606.81 401.96L608.59 404.33L610.37 406.66L612.16 408.95L613.94 411.2L615.72 413.42L617.5 415.6L619.29 417.74L621.07 419.85L622.85 421.93L624.63 423.97L626.42 425.97L628.2 427.94L629.98 429.88L631.76 431.79L633.55 433.67L635.33 435.51L637.11 437.33L638.89 439.11L640.68 440.87L642.46 442.6L644.24 444.29L646.02 445.96L647.81 447.61L649.59 449.22L651.37 450.81L653.15 452.37L654.94 453.91L656.72 455.42L658.5 456.9L660.28 458.37L662.07 459.8L663.85 461.22L665.63 462.61L667.41 463.97L669.2 465.32L670.98 466.64L672.76 467.94L674.54 469.22L676.33 470.48L678.11 471.71L679.89 472.93L681.67 474.13L683.46 475.3L685.24 476.46L687.02 477.6L688.8 478.72L690.59 479.82L692.37 480.9L694.15 481.97L695.93 483.01L697.72 484.04L699.5 485.06L701.28 486.05L703.06 487.03L704.85 488L706.63 488.94L708.41 489.88L710.19 490.79L711.98 491.69L713.76 492.58L715.54 493.45L717.32 494.31L719.11 495.15L720.89 495.98L722.67 496.8L724.45 497.6L726.24 498.39L728.02 499.16L729.8 499.93L731.58 500.68L733.37 501.41L735.15 502.14L736.93 502.85L738.71 503.56L740.5 504.25L742.28 504.92L744.06 505.59L745.84 506.25L747.62 506.89L749.41 507.53L751.19 508.15L752.97 508.77L754.75 509.37L756.54 509.97L758.32 510.55L760.1 511.13L761.88 511.69L763.67 512.25L765.45 512.79L767.23 513.33L769.01 513.86L770.8 514.38L772.58 514.89L774.36 515.39L776.14 515.89L777.93 516.38L779.71 516.85L781.49 517.32L783.27 517.79L785.06 518.24L786.84 518.69L788.62 519.13L790.4 519.56L792.19 519.99L793.97 520.41L795.75 520.82L797.54 521.22L799.32 521.62L801.1 522.01" stroke="#0000ff" stroke-width="1.0" stroke-dasharray="12.7 12.9" fill="none"/>
<path d="M590.14 545.32L596.4 545.32L602.65 545.32L608.91 545.32L615.17 545.32L621.42 545.32L627.68 545.31L633.94 545.28L640.19 545.19L646.45 544.92L652.71 544.21L658.96 542.54L665.22 538.98L671.48 532.13L677.73 520.28L683.99 501.95L690.25 476.79L696.5 446.55L702.76 415.46L709.02 389.57L715.27 374.91L721.53 375.25L727.79 390.48L734.04 416.72L740.3 447.89L746.55 477.99L752.81 502.87L759.07 520.91L765.32 532.51L771.58 539.19L777.84 542.64L784.09 544.25L790.35 544.93L796.61 545.19L801.1 545.27" stroke="#000" stroke-width="2.15" stroke-linejoin="round" fill="none"/>
<path d="M590.27 545.32L596.52 545.32L602.78 545.32L609.04 545.32L615.29 545.32L621.55 545.32L627.81 545.31L634.06 545.27L640.32 545.16L646.57 544.83L652.83 543.98L659.09 542L665.34 537.84L671.6 529.94L677.86 516.55L684.11 496.32L690.37 469.34L696.63 438.05L702.88 407.43L709.14 383.94L715.4 373.36L721.65 378.5L727.91 397.97L734.17 426.83L740.42 458.57L746.68 487.49L752.94 510.22L759.19 525.93L765.45 535.56L771.71 540.85L777.96 543.46L784.22 544.61L790.48 545.08L796.73 545.24L801.1 545.29" stroke="#ff0000" stroke-width="1.5" stroke-linejoin="round" fill="none"/>
<path d="M590.33 545.32L596.58 545.32L602.84 545.32L609.1 545.32L615.35 545.32L621.61 545.32L627.87 545.3L634.12 545.25L640.38 545.11L646.64 544.69L652.89 543.65L659.15 541.28L665.41 536.4L671.66 527.39L677.92 512.49L684.18 490.61L690.43 462.31L696.69 430.65L702.95 401.09L709.2 380.17L715.46 373.13L721.72 381.88L727.97 404.07L734.23 434.18L740.49 465.7L746.74 493.39L753 514.48L759.26 528.65L765.51 537.11L771.77 541.64L778.03 543.82L784.28 544.76L790.54 545.13L796.8 545.26L801.1 545.3" stroke="#0000ff" stroke-width="1.5" stroke-linejoin="round" fill="none"/>
</g>
<g class="t">
<text transform="translate(540.48 355.42) scale(0.9048 1)" style="font-size:24.8px">1.2</text>
<text transform="translate(540.44 382.61) scale(0.9383 1)" style="font-size:24.8px">1.0</text>
<text transform="translate(536.97 417.05) scale(1.0390 1)" style="font-size:24.8px">0.8</text>
<text transform="translate(536.97 451.49) scale(1.0394 1)" style="font-size:24.8px">0.6</text>
<text transform="translate(536.97 485.94) scale(1.0287 1)" style="font-size:24.8px">0.4</text>
<text transform="translate(536.98 520.38) scale(1.0040 1)" style="font-size:24.8px">0.2</text>
<text transform="translate(536.97 545.97) scale(1.0358 1)" style="font-size:24.8px">0.0</text>
<text transform="translate(567.63 579.72) scale(1.0350 1)" style="font-size:24.8px">0.0</text>
<text transform="translate(621.15 579.72) scale(1.0350 1)" style="font-size:24.8px">0.5</text>
<text transform="translate(674.11 579.72) scale(1.0350 1)" style="font-size:24.8px">1.0</text>
<text transform="translate(727.62 579.72) scale(1.0350 1)" style="font-size:24.8px">1.5</text>
<text transform="translate(781.39 579.72) scale(1.0350 1)" style="font-size:24.8px">2.0</text>
<text y="608.02"><tspan x="592.7" textLength="48.84" lengthAdjust="spacingAndGlyphs">True</tspan> <tspan x="652.98" textLength="60.63" lengthAdjust="spacingAndGlyphs">slope</tspan> <tspan x="725.29" textLength="9" lengthAdjust="spacingAndGlyphs" style="font-size:27.5px">[</tspan><tspan x="737.2" y="608.42" textLength="16.53" lengthAdjust="spacingAndGlyphs" style="stroke-width:1.7px">%</tspan><tspan x="755.75" y="612.22" textLength="13.91" lengthAdjust="spacingAndGlyphs" style="font-size:32px;stroke-width:0.2px">/</tspan><tspan x="771.09" y="608.02" textLength="14.02" lengthAdjust="spacingAndGlyphs">h</tspan><tspan x="787.52" textLength="8.01" lengthAdjust="spacingAndGlyphs" style="font-size:27.5px">]</tspan></text>
<text transform="translate(516.25 0) rotate(-90)" y="0"><tspan x="-520.39" textLength="50.62" lengthAdjust="spacingAndGlyphs" style="font-size:22.9px">Prob</tspan><tspan x="-468.26" textLength="9.53" lengthAdjust="spacingAndGlyphs" style="font-size:22.9px">.</tspan> <tspan x="-446.6" textLength="80.92" lengthAdjust="spacingAndGlyphs" style="font-size:22.9px">density</tspan></text>
</g>
<g class="pl">
<rect x="582.2" y="630.34" width="224.5" height="206.65" fill="none" stroke="#000" stroke-width="3.8"/>
<path d="M587.2 836.99v-4.13M587.2 630.34v4.13M622.85 836.99v-4.13M622.85 630.34v4.13M658.5 836.99v-4.13M658.5 630.34v4.13M694.15 836.99v-4.13M694.15 630.34v4.13M729.8 836.99v-4.13M729.8 630.34v4.13M765.45 836.99v-4.13M765.45 630.34v4.13M801.1 836.99v-4.13M801.1 630.34v4.13M582.2 802.55h4.49M806.7 802.55h-4.49M582.2 768.11h4.49M806.7 768.11h-4.49M582.2 733.66h4.49M806.7 733.66h-4.49M582.2 699.22h4.49M806.7 699.22h-4.49M582.2 664.78h4.49M806.7 664.78h-4.49M582.2 830.1h2.25M582.2 823.21h2.25M582.2 816.32h2.25M582.2 809.44h2.25M582.2 795.66h2.25M582.2 788.77h2.25M582.2 781.88h2.25M582.2 774.99h2.25M582.2 761.22h2.25M582.2 754.33h2.25M582.2 747.44h2.25M582.2 740.55h2.25M582.2 726.78h2.25M582.2 719.89h2.25M582.2 713h2.25M582.2 706.11h2.25M582.2 692.33h2.25M582.2 685.45h2.25M582.2 678.56h2.25M582.2 671.67h2.25M582.2 657.89h2.25M582.2 651h2.25M582.2 644.11h2.25M582.2 637.23h2.25" fill="none" stroke="#000" stroke-width="3.5"/>
<path d="M587.2 664.78L588.98 673.18L590.77 681.17L592.55 688.77L594.33 696L596.11 702.87L597.9 709.41L599.68 715.64L601.46 721.55L603.24 727.18L605.03 732.54L606.81 737.63L608.59 742.48L610.37 747.09L612.16 751.47L613.94 755.64L615.72 759.61L617.5 763.38L619.29 766.97L621.07 770.39L622.85 773.64L624.63 776.73L626.42 779.67L628.2 782.46L629.98 785.12L631.76 787.65L633.55 790.06L635.33 792.35L637.11 794.52L638.89 796.59L640.68 798.56L642.46 800.44L644.24 802.22L646.02 803.92L647.81 805.53L649.59 807.06L651.37 808.52L653.15 809.91L654.94 811.23L656.72 812.49L658.5 813.68L660.28 814.82L662.07 815.9L663.85 816.93L665.63 817.91L667.41 818.84L669.2 819.72L670.98 820.57L672.76 821.37L674.54 822.13L676.33 822.85L678.11 823.54L679.89 824.2L681.67 824.82L683.46 825.42L685.24 825.98L687.02 826.52L688.8 827.03L690.59 827.51L692.37 827.98L694.15 828.42L695.93 828.83L697.72 829.23L699.5 829.61L701.28 829.97L703.06 830.31L704.85 830.64L706.63 830.95L708.41 831.24L710.19 831.52L711.98 831.79L713.76 832.04L715.54 832.28L717.32 832.51L719.11 832.73L720.89 832.94L722.67 833.14L724.45 833.33L726.24 833.5L728.02 833.67L729.8 833.84L731.58 833.99L733.37 834.14L735.15 834.28L736.93 834.41L738.71 834.53L740.5 834.65L742.28 834.77L744.06 834.88L745.84 834.98L747.62 835.08L749.41 835.17L751.19 835.26L752.97 835.34L754.76 835.42L756.54 835.5L758.32 835.57L760.1 835.64L761.88 835.71L763.67 835.77L765.45 835.83L767.23 835.89L769.01 835.94L770.8 835.99L772.58 836.04L774.36 836.09L776.14 836.13L777.93 836.17L779.71 836.21L781.49 836.25L783.28 836.29L785.06 836.32L786.84 836.35L788.62 836.38L790.4 836.41L792.19 836.44L793.97 836.47L795.75 836.49L797.54 836.52L799.32 836.54L801.1 836.56" stroke="#ff0000" stroke-width="1.0" stroke-dasharray="12.7 12.9" fill="none"/>
<path d="M587.2 664.78L588.98 681.17L590.77 696L592.55 709.41L594.33 721.55L596.11 732.54L597.9 742.48L599.68 751.47L601.46 759.61L603.24 766.97L605.03 773.64L606.81 779.67L608.59 785.12L610.37 790.06L612.16 794.52L613.94 798.56L615.72 802.22L617.5 805.53L619.29 808.52L621.07 811.23L622.85 813.68L624.63 815.9L626.42 817.91L628.2 819.72L629.98 821.37L631.76 822.85L633.55 824.2L635.33 825.42L637.11 826.52L638.89 827.51L640.68 828.42L642.46 829.23L644.24 829.97L646.02 830.64L647.81 831.24L649.59 831.79L651.37 832.28L653.15 832.73L654.94 833.14L656.72 833.5L658.5 833.84L660.28 834.14L662.07 834.41L663.85 834.65L665.63 834.88L667.41 835.08L669.2 835.26L670.98 835.42L672.76 835.57L674.54 835.71L676.33 835.83L678.11 835.94L679.89 836.04L681.67 836.13L683.46 836.21L685.24 836.29L687.02 836.35L688.8 836.41L690.59 836.47L692.37 836.52L694.15 836.56L695.93 836.6L697.72 836.64L699.5 836.67L701.28 836.7L703.06 836.73L704.85 836.76L706.63 836.78L708.41 836.8L710.19 836.82L711.98 836.83L713.76 836.85L715.54 836.86L717.32 836.87L719.11 836.88L720.89 836.89L722.67 836.9L724.45 836.91L726.24 836.92L728.02 836.93L729.8 836.93L731.58 836.94L733.37 836.94L735.15 836.95L736.93 836.95L738.71 836.95L740.5 836.96L742.28 836.96L744.06 836.96L745.84 836.97L747.62 836.97L749.41 836.97L751.19 836.97L752.97 836.97L754.76 836.98L756.54 836.98L758.32 836.98L760.1 836.98L761.88 836.98L763.67 836.98L765.45 836.98L767.23 836.98L769.01 836.98L770.8 836.98L772.58 836.98L774.36 836.99L776.14 836.99L777.93 836.99L779.71 836.99L781.49 836.99L783.28 836.99L785.06 836.99L786.84 836.99L788.62 836.99L790.4 836.99L792.19 836.99L793.97 836.99L795.75 836.99L797.54 836.99L799.32 836.99L801.1 836.99" stroke="#0000ff" stroke-width="1.0" stroke-dasharray="12.7 12.9" fill="none"/>
<path d="M587.2 836.82L605.03 836.3L611.28 835.53L620.68 831.13L626.93 824.07L633.19 813.91L637.88 803.06L642.58 787.39L647.27 771.72L651.96 752.95L656.65 734.18L661.35 713.86L666.04 696.64L670.73 680.97L675.43 670.12L680.12 664.78L684.81 664.78L689.5 669.95L694.67 682.52L699.35 699.74L704.06 718.51L708.75 740.38L713.44 760.7L718.12 777.92L722.83 793.59L727.52 806.16L732.21 816.32L736.89 823.39L741.6 828.72L746.29 832.34L752.54 835.1L760.37 836.3L801.1 836.82" stroke="#000" stroke-width="2.15" stroke-linejoin="round" fill="none"/>
<path d="M587.2 836.65L595.65 835.1L605.03 830.36L614.42 820.2L619.11 810.81L623.81 798.24L628.5 784.29L633.19 767.07L637.88 751.4L642.58 726.43L647.27 706.11L651.96 688.89L656.65 674.77L661.35 667.02L665.72 664.78L669.94 670.12L673.87 677.87L678.55 690.44L683.24 706.11L687.95 723.33L692.63 742.62L694.67 752.61L699.35 773.27L704.06 790.49L708.75 804.61L713.44 814.77L718.12 822.52L722.83 828.04L727.52 831.48L732.21 833.8L736.89 835.27L744.72 836.3L801.1 836.82" stroke="#ff0000" stroke-width="1.5" stroke-linejoin="round" fill="none"/>
<path d="M587.2 827.69L591.73 829.24L596.11 829.93L601.12 818.56L605.81 810.81L610.52 795.14L615.2 782.74L619.89 763.97L624.58 741.93L629.28 718.51L633.19 698.19L638.66 687.34L642.58 670.81L647.57 664.78L651.66 665.81L656.65 673.22L661.35 685.79L666.04 701.29L670.73 718.51L675.43 735.73L680.12 754.5L684.81 771.72L689.98 791.87L694.67 806.85L699.35 817.53L704.06 824.94L708.75 829.58L713.44 832.68L718.12 834.58L724.4 835.78L733.72 836.65L801.1 836.99" stroke="#0000ff" stroke-width="1.5" stroke-linejoin="round" fill="none"/>
</g>
<g class="t">
<text transform="translate(540.48 647.09) scale(0.9048 1)" style="font-size:24.8px">1.2</text>
<text transform="translate(540.44 674.28) scale(0.9383 1)" style="font-size:24.8px">1.0</text>
<text transform="translate(536.97 708.72) scale(1.0390 1)" style="font-size:24.8px">0.8</text>
<text transform="translate(536.97 743.16) scale(1.0394 1)" style="font-size:24.8px">0.6</text>
<text transform="translate(536.97 777.61) scale(1.0287 1)" style="font-size:24.8px">0.4</text>
<text transform="translate(536.98 812.05) scale(1.0040 1)" style="font-size:24.8px">0.2</text>
<text transform="translate(536.97 837.64) scale(1.0358 1)" style="font-size:24.8px">0.0</text>
<text transform="translate(579.1 871.39) scale(1.0300 1)" style="font-size:24.8px">0</text>
<text transform="translate(614.75 871.39) scale(1.0300 1)" style="font-size:24.8px">2</text>
<text transform="translate(650.48 871.39) scale(1.0300 1)" style="font-size:24.8px">4</text>
<text transform="translate(685.96 871.39) scale(1.0300 1)" style="font-size:24.8px">6</text>
<text transform="translate(721.7 871.39) scale(1.0300 1)" style="font-size:24.8px">8</text>
<text transform="translate(752.18 871.39) scale(0.9500 1)" style="font-size:24.8px">10</text>
<text transform="translate(787.46 871.39) scale(0.9500 1)" style="font-size:24.8px">12</text>
<text y="899.69"><tspan x="592.7" textLength="48.84" lengthAdjust="spacingAndGlyphs">True</tspan> <tspan x="652.98" textLength="60.63" lengthAdjust="spacingAndGlyphs">slope</tspan> <tspan x="725.29" textLength="9" lengthAdjust="spacingAndGlyphs" style="font-size:27.5px">[</tspan><tspan x="737.2" y="900.09" textLength="16.53" lengthAdjust="spacingAndGlyphs" style="stroke-width:1.7px">%</tspan><tspan x="755.75" y="903.89" textLength="13.91" lengthAdjust="spacingAndGlyphs" style="font-size:32px;stroke-width:0.2px">/</tspan><tspan x="771.09" y="899.69" textLength="14.02" lengthAdjust="spacingAndGlyphs">h</tspan><tspan x="787.52" textLength="8.01" lengthAdjust="spacingAndGlyphs" style="font-size:27.5px">]</tspan></text>
<text transform="translate(516.25 0) rotate(-90)" y="0"><tspan x="-812.06" textLength="50.62" lengthAdjust="spacingAndGlyphs" style="font-size:22.9px">Prob</tspan><tspan x="-759.93" textLength="9.53" lengthAdjust="spacingAndGlyphs" style="font-size:22.9px">.</tspan> <tspan x="-738.27" textLength="80.92" lengthAdjust="spacingAndGlyphs" style="font-size:22.9px">density</tspan></text>
</g>
<g class="pl">
<rect x="582.2" y="922.01" width="224.5" height="206.65" fill="none" stroke="#000" stroke-width="3.8"/>
<path d="M587.2 1128.66v-4.13M587.2 922.01v4.13M640.68 1128.66v-4.13M640.68 922.01v4.13M694.15 1128.66v-4.13M694.15 922.01v4.13M747.62 1128.66v-4.13M747.62 922.01v4.13M801.1 1128.66v-4.13M801.1 922.01v4.13M582.2 1094.22h4.49M806.7 1094.22h-4.49M582.2 1059.78h4.49M806.7 1059.78h-4.49M582.2 1025.33h4.49M806.7 1025.33h-4.49M582.2 990.89h4.49M806.7 990.89h-4.49M582.2 956.45h4.49M806.7 956.45h-4.49M582.2 1121.77h2.25M582.2 1114.88h2.25M582.2 1107.99h2.25M582.2 1101.11h2.25M582.2 1087.33h2.25M582.2 1080.44h2.25M582.2 1073.55h2.25M582.2 1066.66h2.25M582.2 1052.89h2.25M582.2 1046h2.25M582.2 1039.11h2.25M582.2 1032.22h2.25M582.2 1018.45h2.25M582.2 1011.56h2.25M582.2 1004.67h2.25M582.2 997.78h2.25M582.2 984h2.25M582.2 977.12h2.25M582.2 970.23h2.25M582.2 963.34h2.25M582.2 949.56h2.25M582.2 942.67h2.25M582.2 935.78h2.25M582.2 928.9h2.25" fill="none" stroke="#000" stroke-width="3.5"/>
<path d="M587.2 956.45L588.98 959.3L590.77 962.1L592.55 964.85L594.33 967.56L596.11 970.22L597.9 972.84L599.68 975.41L601.46 977.95L603.24 980.44L605.03 982.89L606.81 985.3L608.59 987.67L610.37 990L612.16 992.29L613.94 994.54L615.72 996.76L617.5 998.94L619.29 1001.08L621.07 1003.19L622.85 1005.27L624.63 1007.31L626.42 1009.31L628.2 1011.28L629.98 1013.22L631.76 1015.13L633.55 1017.01L635.33 1018.85L637.11 1020.67L638.89 1022.45L640.68 1024.21L642.46 1025.94L644.24 1027.63L646.02 1029.3L647.81 1030.95L649.59 1032.56L651.37 1034.15L653.15 1035.71L654.94 1037.25L656.72 1038.76L658.5 1040.24L660.28 1041.71L662.07 1043.14L663.85 1044.56L665.63 1045.95L667.41 1047.31L669.2 1048.66L670.98 1049.98L672.76 1051.28L674.54 1052.56L676.33 1053.82L678.11 1055.05L679.89 1056.27L681.67 1057.47L683.46 1058.64L685.24 1059.8L687.02 1060.94L688.8 1062.06L690.59 1063.16L692.37 1064.24L694.15 1065.31L695.93 1066.35L697.72 1067.38L699.5 1068.4L701.28 1069.39L703.06 1070.37L704.85 1071.34L706.63 1072.28L708.41 1073.22L710.19 1074.13L711.98 1075.03L713.76 1075.92L715.54 1076.79L717.32 1077.65L719.11 1078.49L720.89 1079.32L722.67 1080.14L724.45 1080.94L726.24 1081.73L728.02 1082.5L729.8 1083.27L731.58 1084.02L733.37 1084.75L735.15 1085.48L736.93 1086.19L738.71 1086.9L740.5 1087.59L742.28 1088.26L744.06 1088.93L745.84 1089.59L747.62 1090.23L749.41 1090.87L751.19 1091.49L752.97 1092.11L754.75 1092.71L756.54 1093.31L758.32 1093.89L760.1 1094.47L761.88 1095.03L763.67 1095.59L765.45 1096.13L767.23 1096.67L769.01 1097.2L770.8 1097.72L772.58 1098.23L774.36 1098.73L776.14 1099.23L777.93 1099.72L779.71 1100.19L781.49 1100.66L783.27 1101.13L785.06 1101.58L786.84 1102.03L788.62 1102.47L790.4 1102.9L792.19 1103.33L793.97 1103.75L795.75 1104.16L797.54 1104.56L799.32 1104.96L801.1 1105.35" stroke="#ff0000" stroke-width="1.0" stroke-dasharray="12.7 12.9" fill="none"/>
<path d="M587.2 956.45L588.98 962.1L590.77 967.56L592.55 972.84L594.33 977.95L596.11 982.89L597.9 987.67L599.68 992.29L601.46 996.76L603.24 1001.08L605.03 1005.27L606.81 1009.31L608.59 1013.22L610.37 1017.01L612.16 1020.67L613.94 1024.21L615.72 1027.63L617.5 1030.95L619.29 1034.15L621.07 1037.25L622.85 1040.24L624.63 1043.14L626.42 1045.95L628.2 1048.66L629.98 1051.28L631.76 1053.82L633.55 1056.27L635.33 1058.64L637.11 1060.94L638.89 1063.16L640.68 1065.31L642.46 1067.38L644.24 1069.39L646.02 1071.34L647.81 1073.22L649.59 1075.03L651.37 1076.79L653.15 1078.49L654.94 1080.14L656.72 1081.73L658.5 1083.27L660.28 1084.75L662.07 1086.19L663.85 1087.59L665.63 1088.93L667.41 1090.23L669.2 1091.49L670.98 1092.71L672.76 1093.89L674.54 1095.03L676.33 1096.13L678.11 1097.2L679.89 1098.23L681.67 1099.23L683.46 1100.19L685.24 1101.13L687.02 1102.03L688.8 1102.9L690.59 1103.75L692.37 1104.56L694.15 1105.35L695.93 1106.12L697.72 1106.86L699.5 1107.57L701.28 1108.26L703.06 1108.93L704.85 1109.58L706.63 1110.2L708.41 1110.81L710.19 1111.39L711.98 1111.96L713.76 1112.51L715.54 1113.04L717.32 1113.55L719.11 1114.05L720.89 1114.52L722.67 1114.99L724.45 1115.44L726.24 1115.87L728.02 1116.29L729.8 1116.69L731.58 1117.09L733.37 1117.47L735.15 1117.83L736.93 1118.19L738.71 1118.53L740.5 1118.86L742.28 1119.18L744.06 1119.5L745.84 1119.8L747.62 1120.09L749.41 1120.37L751.19 1120.64L752.97 1120.9L754.75 1121.16L756.54 1121.4L758.32 1121.64L760.1 1121.87L761.88 1122.09L763.67 1122.31L765.45 1122.52L767.23 1122.72L769.01 1122.91L770.8 1123.1L772.58 1123.28L774.36 1123.46L776.14 1123.63L777.93 1123.8L779.71 1123.95L781.49 1124.11L783.27 1124.26L785.06 1124.4L786.84 1124.54L788.62 1124.68L790.4 1124.81L792.19 1124.93L793.97 1125.06L795.75 1125.17L797.54 1125.29L799.32 1125.4L801.1 1125.51" stroke="#0000ff" stroke-width="1.0" stroke-dasharray="12.7 12.9" fill="none"/>
<path d="M587.2 1112.16L591.75 1110.92L595.65 1108.68L600.35 1104.38L605.06 1098.18L609.71 1091.12L614.42 1081.65L619.12 1070.8L623.83 1057.37L628.48 1043.42L633.19 1027.74L637.89 1012.07L642.6 998.12L647.25 982.45L651.96 971.43L656.66 963.68L661.37 958.17L664.47 956.45L669.18 957.14L673.88 959.72L678.59 965.23L683.24 976.08L689.5 993.99L694.68 1012.07L699.39 1027.74L704.04 1044.97L708.75 1059.09L713.45 1071.49L718.16 1082.51L722.87 1092.67L727.52 1101.28L732.22 1108.34L736.93 1113.68L743.19 1119.19L749.44 1123.15L755.7 1125.9L761.96 1127.28L771.15 1128.32L801.1 1128.66" stroke="#000" stroke-width="2.15" stroke-linejoin="round" fill="none"/>
<path d="M587.2 1094.98L590.94 1094.65L595.65 1090.26L600.35 1084.06L605.06 1074.59L609.71 1064.43L614.42 1051.17L619.12 1037.04L623.83 1021.55L628.48 1007.42L633.19 991.75L637.89 978.49L642.6 968.33L647.25 960.58L651.96 957.48L655.86 956.45L659.82 957.14L664.47 961.27L669.18 969.19L673.88 979.35L678.59 993.3L683.24 1008.97L687.95 1024.3L692.65 1039.97L694.68 1045.65L699.39 1060.64L704.04 1074.59L708.75 1087.16L713.45 1097.32L718.16 1105.93L722.87 1112.13L727.52 1117.64L732.22 1121.6L736.93 1124.35L743.19 1126.59L749.44 1127.8L760.46 1128.49L801.1 1128.66" stroke="#ff0000" stroke-width="1.5" stroke-linejoin="round" fill="none"/>
<path d="M587.2 1068.39L591.26 1069.59L595.65 1065.29L599.55 1059.78L603.46 1049.62L608.16 1040.32L612.87 1027.74L617.57 1013.62L622.23 999.67L626.93 986.24L631.64 975.39L634.74 967.64L638.7 962.13L642.6 959.72L647.25 956.45L651.96 960.58L656.66 965.92L661.37 973.84L666.08 984.69L670.73 998.81L675.43 1013.62L680.14 1029.29L684.85 1044.97L689.98 1059.09L694.68 1074.59L699.39 1088.02L704.04 1099.73L708.75 1108.34L713.45 1114.54L718.16 1119.19L722.87 1122.8L727.52 1125.22L732.22 1126.77L736.93 1127.63L744.95 1128.49L801.1 1128.66" stroke="#0000ff" stroke-width="1.5" stroke-linejoin="round" fill="none"/>
</g>
<g class="t">
<text transform="translate(540.48 938.76) scale(0.9048 1)" style="font-size:24.8px">1.2</text>
<text transform="translate(540.44 965.95) scale(0.9383 1)" style="font-size:24.8px">1.0</text>
<text transform="translate(536.97 1000.39) scale(1.0390 1)" style="font-size:24.8px">0.8</text>
<text transform="translate(536.97 1034.83) scale(1.0394 1)" style="font-size:24.8px">0.6</text>
<text transform="translate(536.97 1069.28) scale(1.0287 1)" style="font-size:24.8px">0.4</text>
<text transform="translate(536.98 1103.72) scale(1.0040 1)" style="font-size:24.8px">0.2</text>
<text transform="translate(536.97 1129.31) scale(1.0358 1)" style="font-size:24.8px">0.0</text>
<text transform="translate(579.1 1163.06) scale(1.0300 1)" style="font-size:24.8px">0</text>
<text transform="translate(632.22 1163.06) scale(1.0300 1)" style="font-size:24.8px">1</text>
<text transform="translate(686.05 1163.06) scale(1.0300 1)" style="font-size:24.8px">2</text>
<text transform="translate(739.6 1163.06) scale(1.0300 1)" style="font-size:24.8px">3</text>
<text transform="translate(793.08 1163.06) scale(1.0300 1)" style="font-size:24.8px">4</text>
<text y="1191.36"><tspan x="592.7" textLength="48.84" lengthAdjust="spacingAndGlyphs">True</tspan> <tspan x="652.98" textLength="60.63" lengthAdjust="spacingAndGlyphs">slope</tspan> <tspan x="725.29" textLength="9" lengthAdjust="spacingAndGlyphs" style="font-size:27.5px">[</tspan><tspan x="737.2" y="1191.76" textLength="16.53" lengthAdjust="spacingAndGlyphs" style="stroke-width:1.7px">%</tspan><tspan x="755.75" y="1195.56" textLength="13.91" lengthAdjust="spacingAndGlyphs" style="font-size:32px;stroke-width:0.2px">/</tspan><tspan x="771.09" y="1191.36" textLength="14.02" lengthAdjust="spacingAndGlyphs">h</tspan><tspan x="787.52" textLength="8.01" lengthAdjust="spacingAndGlyphs" style="font-size:27.5px">]</tspan></text>
<text transform="translate(516.25 0) rotate(-90)" y="0"><tspan x="-1103.73" textLength="50.62" lengthAdjust="spacingAndGlyphs" style="font-size:22.9px">Prob</tspan><tspan x="-1051.6" textLength="9.53" lengthAdjust="spacingAndGlyphs" style="font-size:22.9px">.</tspan> <tspan x="-1029.94" textLength="80.92" lengthAdjust="spacingAndGlyphs" style="font-size:22.9px">density</tspan></text>
</g>
</svg>
</body></html>
